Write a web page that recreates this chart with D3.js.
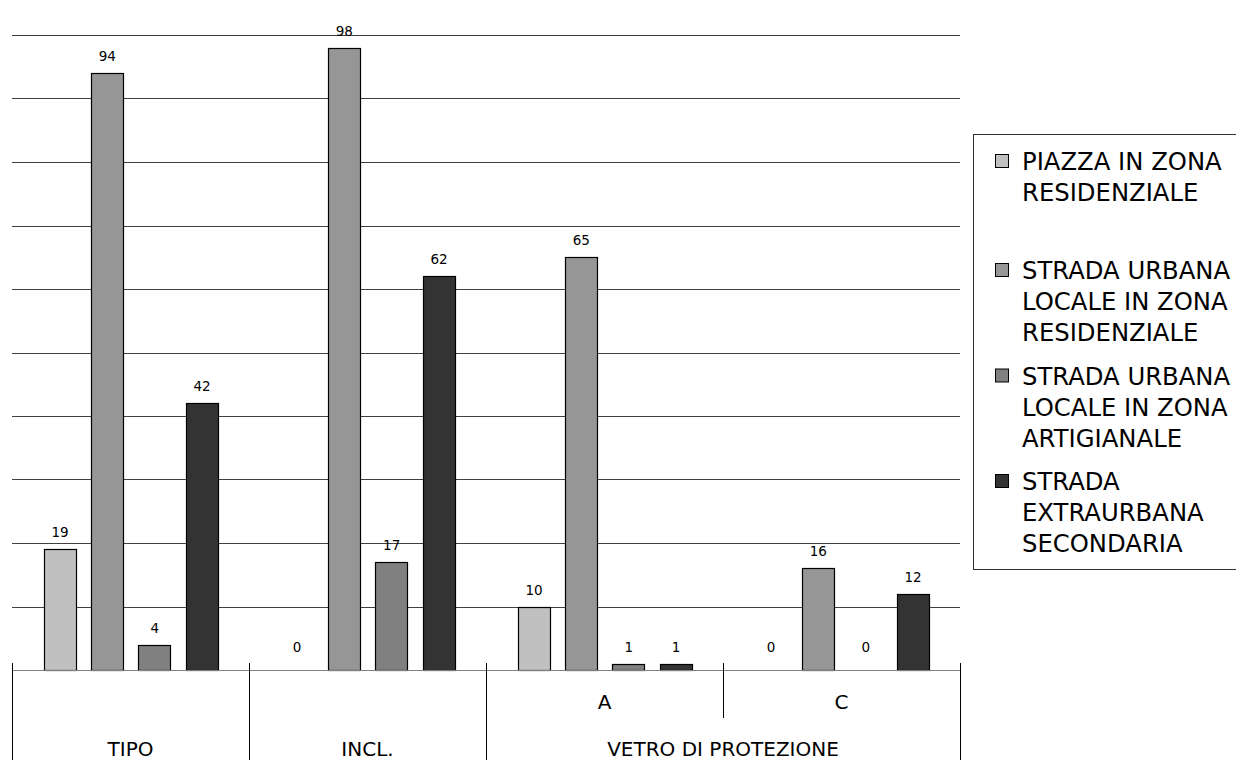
<!DOCTYPE html>
<html><head><meta charset="utf-8">
<script src="https://cdn.jsdelivr.net/npm/d3@7"></script>
<style>html,body{margin:0;padding:0;background:#fff;}svg{display:block;font-family:"DejaVu Sans",sans-serif;}</style>
</head><body>
<svg id="chart" width="1236" height="760"></svg>
<script>
// ---- data ----
const categories = ["TIPO", "INCL.", "A", "C"];
const parentLabels = [null, null, "VETRO DI PROTEZIONE", "VETRO DI PROTEZIONE"];
const seriesNames = [
  "PIAZZA IN ZONA RESIDENZIALE",
  "STRADA URBANA LOCALE IN ZONA RESIDENZIALE",
  "STRADA URBANA LOCALE IN ZONA ARTIGIANALE",
  "STRADA EXTRAURBANA SECONDARIA"
];
const legendLines = [
  ["PIAZZA IN ZONA", "RESIDENZIALE"],
  ["STRADA URBANA", "LOCALE IN ZONA", "RESIDENZIALE"],
  ["STRADA URBANA", "LOCALE IN ZONA", "ARTIGIANALE"],
  ["STRADA", "EXTRAURBANA", "SECONDARIA"]
];
const piazzaResidenziale = [19, 0, 10, 0];
const urbanaResidenziale = [94, 98, 65, 16];
const urbanaArtigianale = [4, 17, 1, 0];
const extraurbanaSecondaria = [42, 62, 1, 12];
const yTicks = [0, 10, 20, 30, 40, 50, 60, 70, 80, 90, 100];
const seriesColors = ["#c0c0c0", "#969696", "#808080", "#333333"];

const seriesValues = [piazzaResidenziale, urbanaResidenziale, urbanaArtigianale, extraurbanaSecondaria];

(function () {
// ---- layout ----
const svg = d3.select("#chart");
const pLeft = 12, pRight = 960, pTop = 35, base = 670;

const x0 = d3.scaleBand().domain(categories).range([pLeft, pRight]).paddingInner(0).paddingOuter(0);
const gw = x0.bandwidth();
const x1 = d3.scaleBand().domain(d3.range(seriesNames.length))
  .range([gw * 0.133, gw * 0.867]).paddingInner(0.326).paddingOuter(0);
const y = d3.scaleLinear().domain([0, 100]).range([base, pTop]);

// gridlines
const grid = svg.append("g");
grid.selectAll("line").data(yTicks.filter(d => d > 0)).join("line")
  .attr("x1", pLeft).attr("x2", pRight)
  .attr("y1", d => Math.round(y(d)) + 0.5).attr("y2", d => Math.round(y(d)) + 0.5)
  .attr("stroke", "#404040").attr("stroke-width", 1);

// bars
const groups = svg.append("g").selectAll("g").data(categories).join("g")
  .attr("transform", d => `translate(${x0(d)},0)`);

groups.each(function (cat, ci) {
  const g = d3.select(this);
  seriesValues.forEach((vals, si) => {
    const v = vals[ci];
    const bx = x1(si), bw = x1.bandwidth();
    if (v > 0) {
      g.append("rect")
        .attr("x", Math.round(bx) + 0.5)
        .attr("y", Math.round(y(v)) + 0.5)
        .attr("width", Math.round(bw))
        .attr("height", Math.round(base) - Math.round(y(v)))
        .attr("fill", seriesColors[si])
        .attr("stroke", "#000").attr("stroke-width", 1.2);
    }
    const ly = Math.min(y(v) - 12, base - 18);
    g.append("text")
      .attr("x", bx + bw / 2 + 0.5).attr("y", ly)
      .attr("text-anchor", "middle")
      .attr("font-size", 13.5).attr("fill", "#000")
      .text(v);
  });
});

// category axis
const ax = svg.append("g");
ax.append("line").attr("x1", pLeft).attr("x2", pRight)
  .attr("y1", base + 0.5).attr("y2", base + 0.5)
  .attr("stroke", "#808080").attr("stroke-width", 1);

// separators
const bounds = categories.map(c => x0(c)).concat([pRight]);
bounds.forEach((bxp, i) => {
  const prevP = i > 0 ? parentLabels[i - 1] : null;
  const nextP = i < categories.length ? parentLabels[i] : null;
  const short = prevP && nextP && prevP === nextP;
  ax.append("line")
    .attr("x1", Math.round(bxp) + 0.5).attr("x2", Math.round(bxp) + 0.5)
    .attr("y1", base - 7).attr("y2", short ? 718 : 760)
    .attr("stroke", "#000").attr("stroke-width", 1);
});

// leaf labels
categories.forEach((c, i) => {
  const cx = x0(c) + gw / 2;
  ax.append("text")
    .attr("x", cx).attr("y", parentLabels[i] ? 709 : 756)
    .attr("text-anchor", "middle").attr("font-size", 20).attr("fill", "#000")
    .text(c);
});
// parent labels
const parents = Array.from(new Set(parentLabels.filter(p => p)));
parents.forEach(p => {
  const idx = categories.filter((c, i) => parentLabels[i] === p);
  const xa = x0(idx[0]), xb = x0(idx[idx.length - 1]) + gw;
  ax.append("text")
    .attr("x", (xa + xb) / 2).attr("y", 756)
    .attr("text-anchor", "middle").attr("font-size", 20).attr("fill", "#000")
    .text(p);
});

// legend
const lg = svg.append("g");
lg.append("rect").attr("x", 973.5).attr("y", 134.5).attr("width", 280).attr("height", 435)
  .attr("fill", "#fff").attr("stroke", "#333").attr("stroke-width", 1);
const lineH = 31, itemStep = 105.5, firstBase = 170, firstGapExtra = 3.5;
seriesNames.forEach((name, i) => {
  const by = firstBase + i * itemStep + (i > 0 ? firstGapExtra : 0);
  lg.append("rect").attr("x", 995.5).attr("y", by - 15.5).attr("width", 13).attr("height", 13)
    .attr("fill", seriesColors[i]).attr("stroke", "#000").attr("stroke-width", 1);
  const t = lg.append("text").attr("x", 1022).attr("y", by)
    .attr("font-size", 24.3).attr("fill", "#000");
  legendLines[i].forEach((ln, k) => {
    t.append("tspan").attr("x", 1022).attr("y", by + k * lineH).text(ln);
  });
});
})();
</script>
</body></html>
